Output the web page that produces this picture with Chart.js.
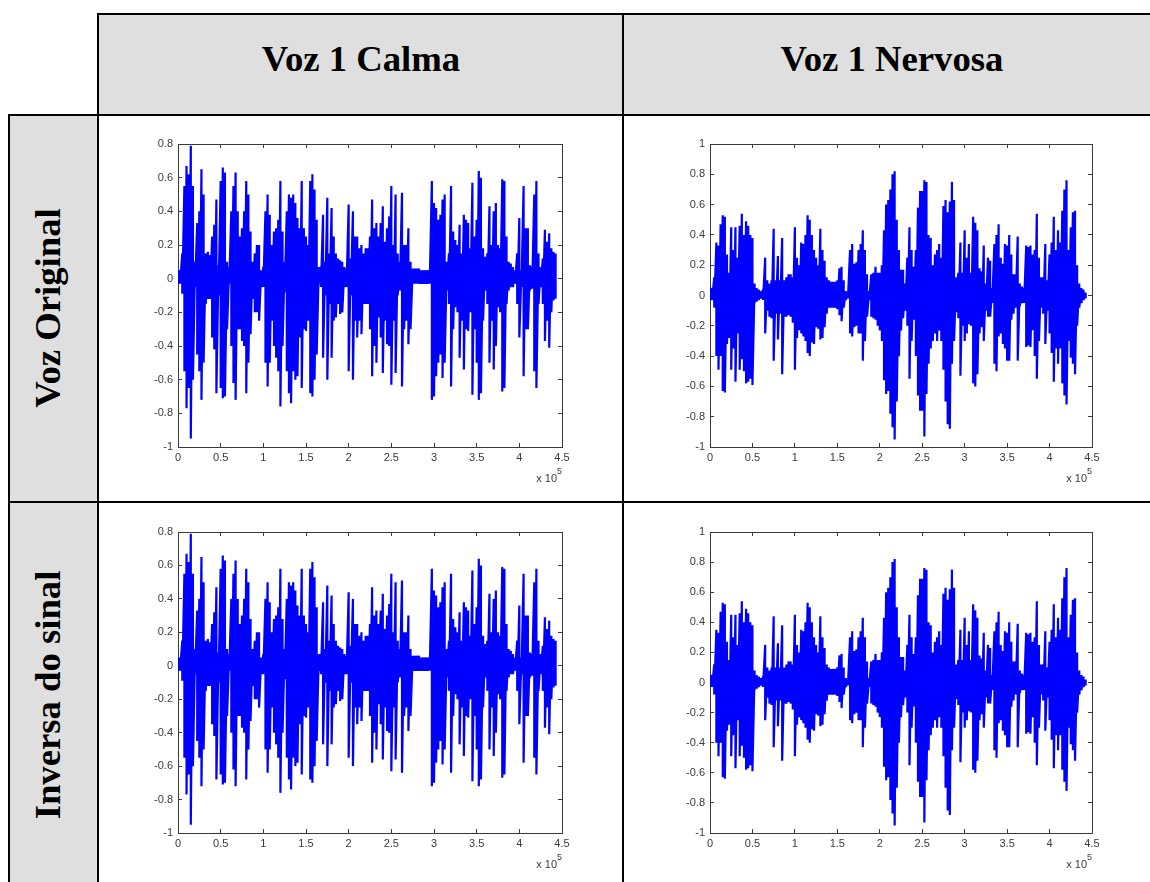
<!DOCTYPE html>
<html>
<head>
<meta charset="utf-8">
<script src="https://cdn.jsdelivr.net/npm/chart.js@4"></script>
<style>
html, body { margin: 0; padding: 0; background: #fff; width: 1150px; height: 882px; overflow: hidden; }
.gray { position: absolute; background: #dfdfdf; }
.rule { position: absolute; background: #000; }
.head { position: absolute; font: bold 36.7px "Liberation Serif", serif; color: #000; text-align: center; white-space: nowrap; }
.side { position: absolute; font: bold 36.7px "Liberation Serif", serif; color: #000; white-space: nowrap; transform: translate(-50%, -50%) rotate(-90deg); }
canvas { position: absolute; }
</style>
</head>
<body>
<div class="gray" style="left:99px;top:15px;width:1051px;height:99px"></div>
<div class="gray" style="left:9px;top:116px;width:89px;height:766px"></div>

<div class="rule" style="left:98px;top:13px;width:1052px;height:2px"></div>
<div class="rule" style="left:8px;top:114px;width:1142px;height:2px"></div>
<div class="rule" style="left:8px;top:501px;width:1142px;height:2px"></div>
<div class="rule" style="left:8px;top:114px;width:2px;height:768px"></div>
<div class="rule" style="left:97px;top:13px;width:2px;height:869px"></div>
<div class="rule" style="left:622px;top:13px;width:2px;height:869px"></div>

<div class="head" style="left:99px;top:37px;width:524px">Voz 1 Calma</div>
<div class="head" style="left:624px;top:37px;width:536px">Voz 1 Nervosa</div>
<div class="side" style="left:47px;top:308px">Voz Original</div>
<div class="side" style="left:47px;top:695px">Inversa do sinal</div>

<canvas id="calmaOriginal" width="440" height="360" style="left:130px;top:130px"></canvas>
<canvas id="nervosaOriginal" width="440" height="360" style="left:662px;top:130px"></canvas>
<canvas id="calmaInversa" width="440" height="358" style="left:130px;top:518px"></canvas>
<canvas id="nervosaInversa" width="440" height="358" style="left:662px;top:518px"></canvas>

<script>
// sample position, in units of 10^5 (one row per 10^5)
const sampleX = [0,0.025,0.05,0.075,0.1,0.125,0.15,0.175,0.2,0.225,0.25,0.275,0.3,0.325,0.35,0.375,0.4,0.425,0.45,0.475,
    0.5,0.525,0.55,0.575,0.6,0.625,0.65,0.675,0.7,0.725,0.75,0.775,0.8,0.825,0.85,0.875,0.9,0.925,0.95,0.975,
    1,1.025,1.05,1.075,1.1,1.125,1.15,1.175,1.2,1.225,1.25,1.275,1.3,1.325,1.35,1.375,1.4,1.425,1.45,1.475,
    1.5,1.525,1.55,1.575,1.6,1.625,1.65,1.675,1.7,1.725,1.75,1.775,1.8,1.825,1.85,1.875,1.9,1.925,1.95,1.975,
    2,2.025,2.05,2.075,2.1,2.125,2.15,2.175,2.2,2.225,2.25,2.275,2.3,2.325,2.35,2.375,2.4,2.425,2.45,2.475,
    2.5,2.525,2.55,2.575,2.6,2.625,2.65,2.675,2.7,2.725,2.75,2.775,2.8,2.825,2.85,2.875,2.9,2.925,2.95,2.975,
    3,3.025,3.05,3.075,3.1,3.125,3.15,3.175,3.2,3.225,3.25,3.275,3.3,3.325,3.35,3.375,3.4,3.425,3.45,3.475,
    3.5,3.525,3.55,3.575,3.6,3.625,3.65,3.675,3.7,3.725,3.75,3.775,3.8,3.825,3.85,3.875,3.9,3.925,3.95,3.975,
    4,4.025,4.05,4.075,4.1,4.125,4.15,4.175,4.2,4.225,4.25,4.275,4.3,4.325,4.35,4.375,4.4,4.425];

// envelope of the waveform
const calmaHi = [.05,.05,.15,.55,.67,.62,.79,.55,.10,.33,.40,.65,.50,.15,.16,.14,.25,.32,.47,.08,
    .58,.66,.63,.10,.07,.40,.55,.63,.40,.25,.30,.40,.58,.50,.28,.10,.15,.20,.20,.05,
    .07,.40,.50,.38,.20,.28,.30,.35,.58,.28,.10,.40,.50,.48,.50,.45,.36,.30,.58,.30,
    .25,.20,.58,.62,.53,.35,.07,.07,.38,.10,.48,.15,.42,.25,.15,.12,.11,.10,.07,.06,
    .44,.12,.40,.25,.25,.18,.20,.15,.18,.18,.25,.47,.30,.33,.25,.33,.43,.22,.30,.37,
    .55,.20,.50,.15,.10,.51,.20,.20,.30,.10,.06,.06,.06,.06,.05,.05,.05,.05,.05,.58,
    .45,.42,.35,.38,.47,.50,.10,.15,.55,.28,.23,.20,.32,.15,.38,.35,.33,.18,.57,.25,
    .35,.64,.60,.18,.13,.15,.43,.20,.40,.45,.20,.18,.59,.58,.25,.10,.09,.07,.05,.15,
    .36,.05,.55,.30,.30,.08,.07,.50,.58,.15,.07,.12,.29,.22,.27,.18,.16,.15];
const calmaLo = [-.03,-.03,-.09,-.55,-.77,-.65,-.95,-.60,-.05,-.45,-.55,-.72,-.50,-.15,-.12,-.12,-.35,-.42,-.68,-.10,
    -.65,-.71,-.70,-.30,-.03,-.40,-.62,-.72,-.30,-.30,-.37,-.40,-.68,-.50,-.33,-.12,-.20,-.20,-.25,-.05,
    -.05,-.50,-.64,-.50,-.25,-.40,-.47,-.55,-.76,-.40,-.08,-.55,-.68,-.74,-.55,-.60,-.58,-.35,-.65,-.30,
    -.31,-.25,-.68,-.70,-.60,-.45,-.03,-.05,-.47,-.10,-.60,-.15,-.47,-.25,-.23,-.15,-.21,-.20,-.05,-.05,
    -.55,-.10,-.60,-.25,-.35,-.25,-.33,-.15,-.15,-.15,-.30,-.58,-.40,-.50,-.23,-.35,-.56,-.25,-.39,-.40,
    -.63,-.25,-.56,-.10,-.07,-.64,-.30,-.25,-.39,-.30,-.03,-.03,-.03,-.03,-.03,-.03,-.03,-.03,-.03,-.72,
    -.70,-.58,-.50,-.45,-.59,-.50,-.07,-.15,-.64,-.30,-.17,-.20,-.47,-.25,-.54,-.30,-.31,-.20,-.69,-.30,
    -.50,-.72,-.68,-.25,-.07,-.15,-.50,-.25,-.54,-.40,-.17,-.20,-.67,-.65,-.15,-.07,-.05,-.05,-.03,-.15,
    -.35,-.05,-.58,-.30,-.30,-.07,-.06,-.55,-.65,-.15,-.05,-.15,-.37,-.25,-.41,-.20,-.13,-.12];
const nervosaHi = [.05,.05,.12,.35,.33,.47,.53,.52,.27,.15,.45,.30,.45,.25,.46,.54,.40,.49,.46,.40,
    .38,.08,.05,.04,.03,.04,.25,.10,.08,.10,.44,.10,.26,.10,.38,.10,.12,.14,.14,.12,
    .45,.25,.20,.35,.34,.40,.53,.50,.40,.30,.25,.20,.44,.30,.23,.12,.10,.09,.09,.09,
    .10,.18,.19,.10,.03,.02,.30,.34,.21,.22,.30,.34,.43,.30,.14,.03,.14,.15,.19,.15,
    .15,.20,.43,.60,.63,.70,.80,.82,.50,.30,.17,.17,.08,.25,.45,.30,.19,.30,.58,.69,
    .69,.76,.75,.40,.38,.20,.27,.30,.34,.25,.59,.63,.55,.62,.75,.63,.12,.15,.35,.15,
    .43,.25,.34,.15,.52,.48,.43,.18,.16,.33,.08,.25,.23,.05,.34,.40,.47,.25,.21,.34,
    .33,.40,.27,.14,.14,.39,.08,.06,.05,.33,.32,.33,.27,.30,.54,.25,.12,.12,.34,.10,
    .27,.35,.52,.30,.43,.35,.56,.70,.76,.30,.45,.55,.56,.20,.08,.05,.04,.02];
const nervosaLo = [-.03,-.03,-.08,-.40,-.49,-.40,-.63,-.64,-.32,-.28,-.49,-.35,-.57,-.25,-.49,-.42,-.50,-.58,-.57,-.55,
    -.59,-.05,-.04,-.03,-.02,-.03,-.25,-.10,-.14,-.15,-.43,-.12,-.29,-.12,-.52,-.14,-.14,-.13,-.14,-.18,
    -.49,-.28,-.23,-.25,-.27,-.30,-.38,-.40,-.31,-.32,-.21,-.22,-.29,-.28,-.21,-.12,-.08,-.08,-.08,-.08,
    -.09,-.13,-.17,-.08,-.03,-.02,-.25,-.27,-.21,-.20,-.25,-.25,-.43,-.30,-.14,-.03,-.14,-.15,-.16,-.20,
    -.23,-.30,-.56,-.65,-.63,-.78,-.87,-.95,-.70,-.40,-.23,-.15,-.10,-.20,-.55,-.30,-.16,-.40,-.66,-.76,
    -.76,-.93,-.65,-.45,-.35,-.30,-.25,-.30,-.23,-.30,-.49,-.70,-.85,-.88,-.45,-.30,-.11,-.15,-.53,-.20,
    -.30,-.25,-.19,-.20,-.58,-.60,-.52,-.25,-.21,-.30,-.10,-.14,-.14,-.05,-.45,-.50,-.27,-.25,-.32,-.35,
    -.43,-.43,-.16,-.12,-.08,-.43,-.07,-.05,-.05,-.34,-.33,-.34,-.23,-.40,-.55,-.30,-.08,-.12,-.32,-.10,
    -.25,-.38,-.57,-.35,-.45,-.35,-.58,-.66,-.72,-.30,-.41,-.45,-.52,-.20,-.08,-.05,-.03,-.02];

const xTicks = { min: 0, max: 4.5, step: 0.5 };
const calmaRange = { min: -1, max: 0.8 };
const nervosaRange = { min: -1, max: 1 };
const ink = '#3a3a3a';
const tickFont = { family: 'Liberation Sans', size: 11 };

// the trace swings between the two envelopes, like the sampled signal does
function zigzag(hi, lo) {
    const pts = [];
    sampleX.forEach((x, i) => {
        pts.push({ x: x, y: hi[i] });
        pts.push({ x: x, y: lo[i] });
    });
    return pts;
}

// fix the axis box so the plot lands where the original has it
function forced(size) {
    return function (scale) {
        if (scale.isHorizontal()) scale.height = size;
        else scale.width = size;
        scale.paddingLeft = scale.paddingRight = scale.paddingTop = scale.paddingBottom = 0;
    };
}

function plainLabel(value) {
    return String(Math.round(value * 10) / 10);
}

function frameScale(extra) {
    return Object.assign({
        border: { display: true, color: ink, width: 1 },
        grid: { drawOnChartArea: false, drawTicks: true, tickLength: -4, color: ink }
    }, extra);
}

// the "x 10^5" note under the x axis
const exponentNote = {
    id: 'exponentNote',
    afterDraw(chart) {
        const ctx = chart.ctx;
        const area = chart.chartArea;
        ctx.save();
        ctx.fillStyle = ink;
        ctx.textAlign = 'right';
        ctx.textBaseline = 'alphabetic';
        ctx.font = '11px "Liberation Sans"';
        ctx.fillText('x 10', area.right - 5, area.bottom + 35);
        ctx.font = '9px "Liberation Sans"';
        ctx.fillText('5', area.right, area.bottom + 27);
        ctx.restore();
    }
};

function makeChart(id, hi, lo, range, plotH, rightPad) {
    new Chart(document.getElementById(id), {
        type: 'line',
        data: {
            datasets: [{
                data: zigzag(hi, lo),
                borderColor: '#0000ff',
                borderWidth: 2.2,
                borderJoinStyle: 'bevel',
                pointRadius: 0,
                tension: 0,
                fill: false
            }]
        },
        plugins: [exponentNote],
        options: {
            responsive: false,
            animation: false,
            events: [],
            parsing: false,
            layout: { padding: { top: 14, right: rightPad, bottom: document.getElementById(id).height - 14 - plotH - 37, left: 0 } },
            plugins: { legend: { display: false }, tooltip: { enabled: false } },
            scales: {
                x: frameScale({
                    type: 'linear', position: 'bottom', min: xTicks.min, max: xTicks.max, afterFit: forced(37),
                    ticks: { stepSize: xTicks.step, autoSkip: false, maxRotation: 0, padding: 8, color: ink, font: tickFont, callback: plainLabel }
                }),
                y: frameScale({
                    type: 'linear', position: 'left', min: range.min, max: range.max, afterFit: forced(48),
                    ticks: { stepSize: 0.2, autoSkip: false, padding: 9, color: ink, font: tickFont, callback: plainLabel }
                }),
                x2: frameScale({
                    type: 'linear', position: 'top', min: xTicks.min, max: xTicks.max, afterFit: forced(0),
                    ticks: { stepSize: xTicks.step, display: false }
                }),
                y2: frameScale({
                    type: 'linear', position: 'right', min: range.min, max: range.max, afterFit: forced(0),
                    ticks: { stepSize: 0.2, display: false }
                })
            }
        }
    });
}

makeChart('calmaOriginal', calmaHi, calmaLo, calmaRange, 303, 8);
makeChart('nervosaOriginal', nervosaHi, nervosaLo, nervosaRange, 303, 10);
makeChart('calmaInversa', calmaHi, calmaLo, calmaRange, 301, 8);
makeChart('nervosaInversa', nervosaHi, nervosaLo, nervosaRange, 301, 10);
</script>
</body>
</html>
